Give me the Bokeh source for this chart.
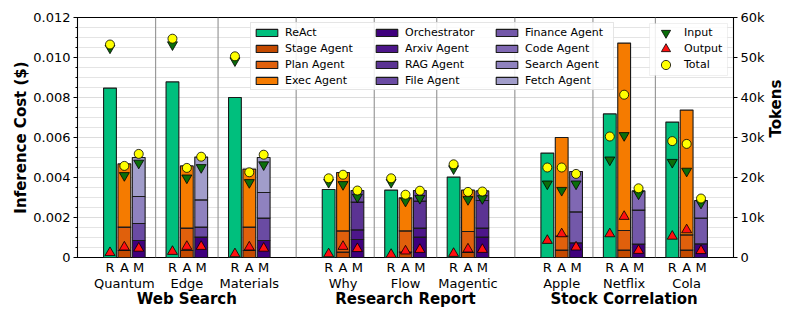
import math
from bokeh.plotting import figure
from bokeh.models import (ColumnDataSource, LinearAxis, FixedTicker, Range1d, Span,
                          Legend, LegendItem, Grid, BoxAnnotation)
from bokeh.embed import file_html
from bokeh.resources import INLINE

# ---------------- data ----------------
tasks = ["Quantum", "Edge", "Materials", "Why", "Flow", "Magentic", "Apple", "Netflix", "Cola"]
categories = ["Web Search", "Research Report", "Stock Correlation"]
systems = ["R", "A", "M"]

cost_ticks = [0, 0.002, 0.004, 0.006, 0.008, 0.010, 0.012]
cost_tick_labels = ["0", "0.002", "0.004", "0.006", "0.008", "0.010", "0.012"]
token_ticks = [0, 10000, 20000, 30000, 40000, 50000, 60000]
token_tick_labels = ["0", "10k", "20k", "30k", "40k", "50k", "60k"]

agent_names = ["ReAct", "Stage Agent", "Plan Agent", "Exec Agent",
               "Orchestrator", "Arxiv Agent", "RAG Agent", "File Agent",
               "Finance Agent", "Code Agent", "Search Agent", "Fetch Agent"]
agent_colors = ["#00bf7d", "#c44a00", "#e0600c", "#f57b00",
                "#3f007d", "#4d168a", "#5b3393", "#6a4ba3",
                "#7358a9", "#8068b3", "#8f82bf", "#a19dca"]
agent_system = ["R", "A", "A", "A", "M", "M", "M", "M", "M", "M", "M", "M"]

# cost ($) per task, one list per agent
react_cost = [0.00847, 0.00878, 0.00800, 0.00340, 0.00337, 0.00402, 0.00522, 0.00718, 0.00677]
stage_cost = [0.00035, 0.00035, 0.00035, 0.00027, 0.00027, 0.00025, 0.00037, 0.00037, 0.00037]
plan_cost = [0.00117, 0.00112, 0.00117, 0.00106, 0.00106, 0.00105, 0.00070, 0.00098, 0.00076]
exec_cost = [0.00316, 0.00311, 0.00290, 0.00292, 0.00165, 0.00207, 0.00493, 0.00937, 0.00624]
orch_cost = [0.00085, 0.00102, 0.00085, 0.00090, 0.00102, 0.00102, 0.00073, 0.00067, 0.00068]
arxiv_cost = [0, 0, 0, 0.00048, 0.00045, 0.00045, 0, 0, 0]
rag_cost = [0, 0, 0, 0.00139, 0.00135, 0.00138, 0, 0, 0]
file_cost = [0.00085, 0.00050, 0.00112, 0.00058, 0.00053, 0.00048, 0, 0, 0]
finance_cost = [0, 0, 0, 0, 0, 0, 0.00155, 0.00170, 0.00129]
code_cost = [0, 0, 0, 0, 0, 0, 0.00202, 0.00096, 0.00088]
search_cost = [0.00135, 0.00136, 0.00128, 0, 0, 0, 0, 0, 0]
fetch_cost = [0.00195, 0.00214, 0.00175, 0, 0, 0, 0, 0, 0]
agent_costs = [react_cost, stage_cost, plan_cost, exec_cost, orch_cost, arxiv_cost,
               rag_cost, file_cost, finance_cost, code_cost, search_cost, fetch_cost]

# tokens per task, one list per system (R, A, M)
input_R = [52400, 53200, 49200, 18800, 18800, 22200, 18400, 24400, 23800]
input_A = [20500, 19900, 18750, 18250, 14100, 14500, 16800, 30500, 21600]
input_M = [23600, 22500, 23200, 15100, 14800, 14750, 18400, 15900, 13600]
output_R = [1200, 1500, 900, 900, 750, 1000, 4250, 5900, 5300]
output_A = [2600, 2750, 2600, 2750, 1600, 2100, 5900, 10250, 6900]
output_M = [2300, 2750, 2300, 2200, 2000, 2000, 2600, 1750, 1700]
total_R = [53250, 54700, 50300, 19800, 19800, 23300, 22500, 30250, 29100]
total_A = [22900, 22400, 21300, 20700, 15700, 16400, 22500, 40700, 28400]
total_M = [25900, 25200, 25700, 16750, 16700, 16500, 20900, 17300, 14750]

# ---------------- layout helpers ----------------
FONT = "DejaVu Sans"
n_per_cat = 3
group_x = [i + 0.5 * (i // n_per_cat) for i in range(len(tasks))]
cat_x = [sum(group_x[c * n_per_cat:(c + 1) * n_per_cat]) / n_per_cat for c in range(len(categories))]
sys_offset = {"R": -0.23, "A": 0.0, "M": 0.23}
bar_w = 0.205

def bar_x(g, s):
    return round(group_x[g] + sys_offset[s], 4)

p = figure(frame_width=656, frame_height=240,
           x_range=Range1d(-0.75, 9.75), y_range=Range1d(0, 0.012),
           x_axis_type=None, y_axis_type=None,
           toolbar_location=None, output_backend="svg",
           min_border_left=77, min_border_right=60, min_border_top=17, min_border_bottom=0,
           background_fill_color="white", border_fill_color="white")
p.extra_y_ranges = {"tok": Range1d(0, 60000)}
p.outline_line_color = "black"
p.outline_line_width = 1.1

# grid
minor_cost = [i * 0.0005 for i in range(25)]
p.add_layout(Grid(dimension=1, ticker=FixedTicker(ticks=cost_ticks, minor_ticks=minor_cost),
                  grid_line_color="#dcdcdc", minor_grid_line_color="#e4e4e4"))
sep = []
for i in range(len(tasks) - 1):
    sep.append((group_x[i] + group_x[i + 1]) / 2)
for s in sep:
    p.add_layout(Span(location=s, dimension="height", line_color="#9a9a9a", line_width=1.2, level="underlay"))

# bars
bar_renderers = []
base = {s: [0.0] * len(tasks) for s in systems}
for name, color, sysname, vals in zip(agent_names, agent_colors, agent_system, agent_costs):
    xs, bots, tops = [], [], []
    for g, v in enumerate(vals):
        if v > 0:
            xs.append(bar_x(g, sysname))
            bots.append(base[sysname][g])
            tops.append(base[sysname][g] + v)
            base[sysname][g] += v
    src = ColumnDataSource(dict(x=xs, bottom=bots, top=tops))
    r = p.vbar(x="x", bottom="bottom", top="top", width=bar_w, source=src,
               fill_color=color, line_color="#1a1a1a", line_width=1.1)
    bar_renderers.append(r)

# token markers
def marker_src(lists):
    xs, ys = [], []
    for s, vals in zip(systems, lists):
        for g, v in enumerate(vals):
            xs.append(bar_x(g, s))
            ys.append(v)
    return ColumnDataSource(dict(x=xs, y=ys))

r_in = p.scatter("x", "y", source=marker_src([input_R, input_A, input_M]), marker="inverted_triangle",
                 size=10, fill_color="#0b6e0b", line_color="black", line_width=0.8, y_range_name="tok")
r_out = p.scatter("x", "y", source=marker_src([output_R, output_A, output_M]), marker="triangle",
                  size=10, fill_color="#ff1010", line_color="black", line_width=0.8, y_range_name="tok")
r_tot = p.scatter("x", "y", source=marker_src([total_R, total_A, total_M]), marker="circle",
                  size=9, fill_color="#ffff00", line_color="black", line_width=0.8, y_range_name="tok")

# axes
left = LinearAxis(ticker=FixedTicker(ticks=cost_ticks, minor_ticks=minor_cost),
                  major_label_overrides=dict(zip(cost_ticks, cost_tick_labels)),
                  axis_label="Inference Cost ($)")
right = LinearAxis(y_range_name="tok", ticker=FixedTicker(ticks=token_ticks, minor_ticks=[]),
                   major_label_overrides=dict(zip(token_ticks, token_tick_labels)),
                   axis_label="Tokens")
for ax in (left, right):
    ax.major_label_text_font = FONT
    ax.major_label_text_font_size = "13px"
    ax.major_label_text_color = "black"
    ax.major_tick_out = 4
    ax.major_tick_in = 0
    ax.minor_tick_out = 2
    ax.minor_tick_in = 0
    ax.major_label_standoff = 3
    ax.axis_line_color = "black"
    ax.major_tick_line_color = "black"
    ax.minor_tick_line_color = "black"
    ax.axis_label_text_font = FONT
    ax.axis_label_text_font_size = "15px"
    ax.axis_label_text_font_style = "bold"
    ax.axis_label_text_color = "black"
left.axis_label_standoff = 0
right.axis_label_standoff = 8
if "axis_label_orientation" in right.properties():
    right.axis_label_orientation = math.pi / 2
p.add_layout(left, "left")
p.add_layout(right, "right")

bar_ticks = [bar_x(g, s) for g in range(len(tasks)) for s in systems]
bar_labels = [s for g in range(len(tasks)) for s in systems]
ax1 = LinearAxis(ticker=FixedTicker(ticks=bar_ticks, minor_ticks=[]),
                 major_label_overrides=dict(zip(bar_ticks, bar_labels)))
ax2 = LinearAxis(ticker=FixedTicker(ticks=group_x, minor_ticks=[]),
                 major_label_overrides=dict(zip(group_x, tasks)))
ax3 = LinearAxis(ticker=FixedTicker(ticks=cat_x, minor_ticks=[]),
                 major_label_overrides=dict(zip(cat_x, categories)))
for ax, fs, st in ((ax1, "13px", 2), (ax2, "13px", -2), (ax3, "15px", -4)):
    ax.axis_line_color = None
    ax.major_tick_line_color = None
    ax.minor_tick_line_color = None
    ax.major_tick_out = 0
    ax.major_tick_in = 0
    ax.major_label_standoff = st
    ax.major_label_text_font = FONT
    ax.major_label_text_font_size = fs
    ax.major_label_text_color = "black"
ax3.major_label_text_font_style = "bold"
p.add_layout(ax1, "below")
p.add_layout(ax2, "below")
p.add_layout(ax3, "below")

# legend of agents
leg1 = Legend(items=[LegendItem(label=n, renderers=[r]) for n, r in zip(agent_names, bar_renderers)],
              location=(173, 167), nrows=4, orientation="vertical")
leg1.label_text_font = FONT
leg1.label_text_font_size = "11px"
leg1.label_text_color = "black"
leg1.border_line_color = "#cccccc"
leg1.border_line_width = 1
leg1.background_fill_color = "white"
leg1.background_fill_alpha = 0.85
leg1.padding = 2
leg1.margin = 0
leg1.label_standoff = 5
leg1.glyph_width = 27
leg1.glyph_height = 9
leg1.label_height = 14
leg1.spacing = 2
leg1.label_width = 86
p.add_layout(leg1, "center")

# legend of token markers: one frame + one compact legend per marker
p.add_layout(BoxAnnotation(left=572, right=650, bottom=182, top=234,
                           left_units="screen", right_units="screen",
                           bottom_units="screen", top_units="screen",
                           fill_color="white", fill_alpha=0.85,
                           line_color="#cccccc", line_width=1, level="overlay"))
for k, (lab, rr) in enumerate((("Input", r_in), ("Output", r_out), ("Total", r_tot))):
    lg = Legend(items=[LegendItem(label=lab, renderers=[rr])],
                location=(577, 213 - 16 * k))
    lg.label_text_font = FONT
    lg.label_text_font_size = "11px"
    lg.label_text_color = "black"
    lg.border_line_color = None
    lg.background_fill_alpha = 0
    lg.padding = 0
    lg.margin = 0
    lg.glyph_width = 23
    lg.glyph_height = 23
    lg.label_standoff = 7
    p.add_layout(lg, "center")

open("out.html", "w").write(file_html(p, INLINE))
